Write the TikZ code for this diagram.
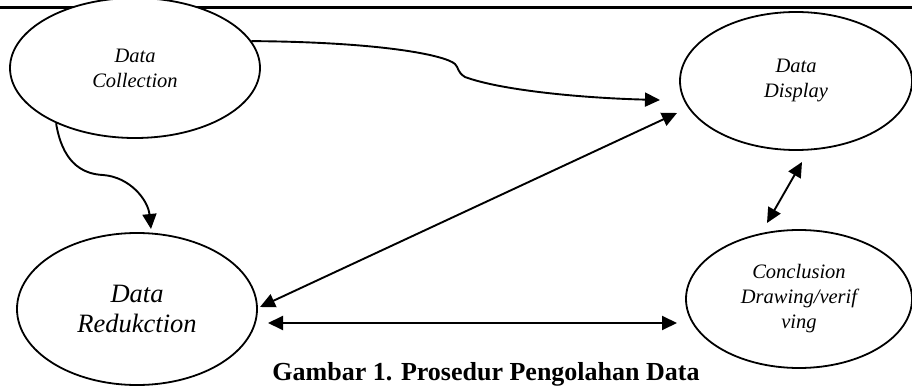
\documentclass[tikz,border=0pt]{standalone}
\usepackage{fontspec}
\setmainfont{Liberation Serif}
\usetikzlibrary{arrows.meta,calc,shapes.geometric}
\begin{document}
\begin{tikzpicture}[x=1pt,y=-1pt,
  oval/.style={draw,line width=1.8pt,ellipse,fill=white,inner sep=0pt,align=center,font=\itshape\fontsize{20.5}{25}\selectfont},
  conn/.style={line width=1.9pt,-{Triangle[length=15pt,width=14pt]}},
  biconn/.style={line width=1.9pt,{Triangle[length=15pt,width=14pt]}-{Triangle[length=15pt,width=14pt]}}]
\useasboundingbox (0,0) rectangle (912,387);
\draw[line width=3pt] (0,8) -- (912,8);
\node[oval,minimum width=250pt,minimum height=140pt] (dc) at (135,68) {Data\\Collection};
\node[oval,minimum width=232pt,minimum height=138pt] (dd) at (796,81) {Data\\Display};
\node[oval,minimum width=240pt,minimum height=152pt,font=\itshape\fontsize{26.5}{30}\selectfont] (dr) at (137,309) {Data\\Redukction};
\node[oval,minimum width=226pt,minimum height=138pt] (cd) at (799,299) {Conclusion\\Drawing/verif\\ving};
\node[anchor=base,font=\bfseries\fontsize{26}{30}\selectfont] (cap) at (486,380) {Gambar 1. Prosedur Pengolahan Data};
\coordinate (t1) at ($(dd.center)+(-136,19)$);
\coordinate (t2) at ($(dr.center)+(14,-80)$);
\draw[conn] (dc.13) .. controls (380,42) and (445,55) .. (455,64) .. controls (459,68) and (457,72) .. (465,77) .. controls (500,90) and (580,98) .. (t1);
\draw[conn] (dc.215) .. controls (62,160) and (80,174) .. (103,175) .. controls (130,177) and (148,200) .. (t2);
\draw[biconn] ($(dr.center)+(123,-2)$) -- ($(dd.center)+(-119,32)$);
\draw[biconn] ($(dr.center)+(131,14)$) -- ($(cd.center)+(-122,24)$);
\draw[biconn] ($(dd.center)+(6,81)$) -- ($(cd.center)+(-32,-76)$);
\end{tikzpicture}
\end{document}
